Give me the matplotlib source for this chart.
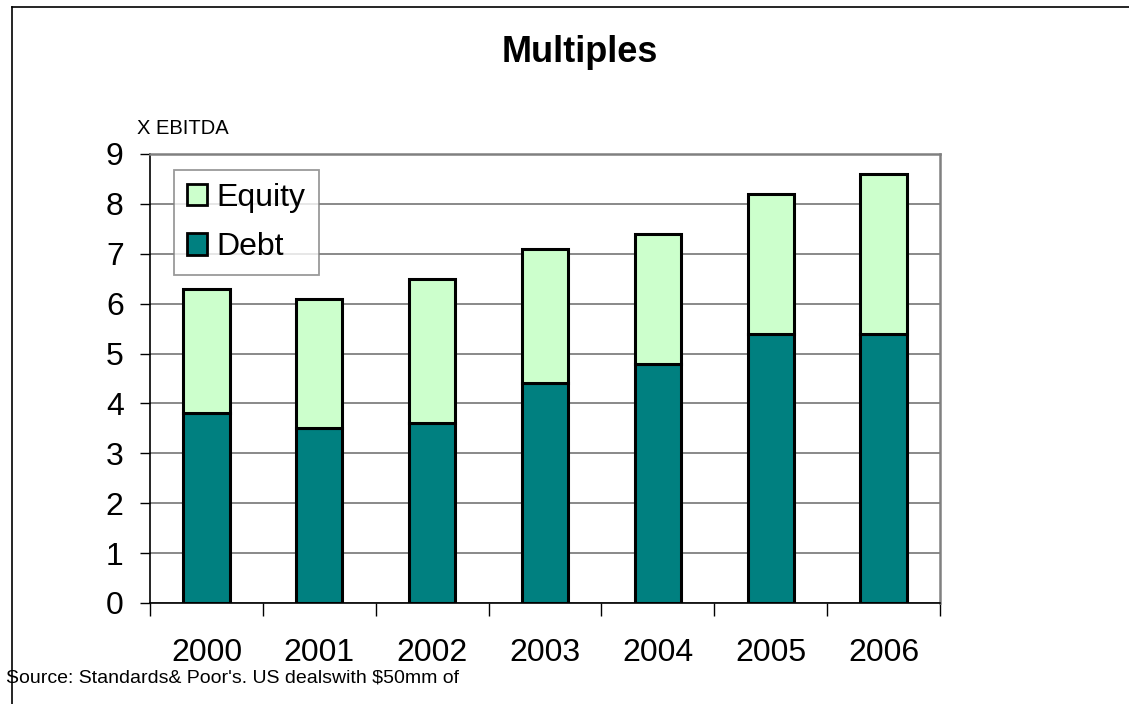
import matplotlib.pyplot as plt
import numpy as np
from matplotlib.lines import Line2D

plt.rcParams['font.family'] = ['Liberation Sans', 'DejaVu Sans']

years = ['2000', '2001', '2002', '2003', '2004', '2005', '2006']
debt = [3.8, 3.5, 3.6, 4.4, 4.8, 5.4, 5.4]
total = [6.3, 6.1, 6.5, 7.1, 7.4, 8.2, 8.6]
equity = [t - d for t, d in zip(total, debt)]

fig = plt.figure(figsize=(11.29, 7.04), dpi=100)
ax = fig.add_axes([0.1329, 0.1435, 0.6997, 0.6378])

x = np.arange(len(years))
w = 0.41
ax.bar(x, debt, w, color='#008080', edgecolor='black', linewidth=2.2, label='Debt', zorder=3)
ax.bar(x, equity, w, bottom=debt, color='#ccffcc', edgecolor='black', linewidth=2.2,
       label='Equity', zorder=3)

ax.set_xlim(-0.5, len(years) - 0.5)
ax.set_ylim(0, 9)
ax.set_yticks(range(0, 10))
ax.yaxis.grid(True, color='#808080', linewidth=1.3, zorder=0)
ax.set_axisbelow(True)

ax.set_xticks(x)
ax.set_xticklabels(years, fontsize=23)
ax.set_xticks(np.arange(-0.5, len(years)), minor=True)
ax.tick_params(axis='x', which='major', length=0, pad=25)
ax.tick_params(axis='x', which='minor', length=9, width=1, color='black')
ax.tick_params(axis='y', length=7, width=1, labelsize=23, pad=12)

for s in ['top', 'right']:
    ax.spines[s].set_color('#808080')
    ax.spines[s].set_linewidth(1.8)
ax.spines['left'].set_linewidth(1.2)
ax.spines['bottom'].set_linewidth(1.2)

handles, labels = ax.get_legend_handles_labels()
leg = ax.legend(handles[::-1], labels[::-1], loc='upper left', bbox_to_anchor=(0.03, 0.964),
                borderaxespad=0, fontsize=23, frameon=True, fancybox=False,
                edgecolor='#808080', handlelength=0.65, handleheight=0.65,
                handletextpad=0.3, labelspacing=0.6, borderpad=0.4)
leg.get_frame().set_linewidth(1.3)
for p in leg.get_patches():
    p.set_linewidth(2.0)

fig.text(0.514, 0.926, 'Multiples', ha='center', va='center', fontsize=26, fontweight='bold')
fig.text(0.121, 0.818, 'X EBITDA', ha='left', va='center', fontsize=14.5)
fig.text(0.005, 0.037, "Source: Standards& Poor's. US dealswith $50mm of",
         ha='left', va='center', fontsize=14)

# outer frame (top and left edges)
fig.add_artist(Line2D([0.0106, 1.0], [0.990, 0.990], color='black', linewidth=1.2,
                      transform=fig.transFigure))
fig.add_artist(Line2D([0.0106, 0.0106], [0.0, 0.990], color='black', linewidth=1.2,
                      transform=fig.transFigure))

fig.savefig('out.png', dpi=100)
